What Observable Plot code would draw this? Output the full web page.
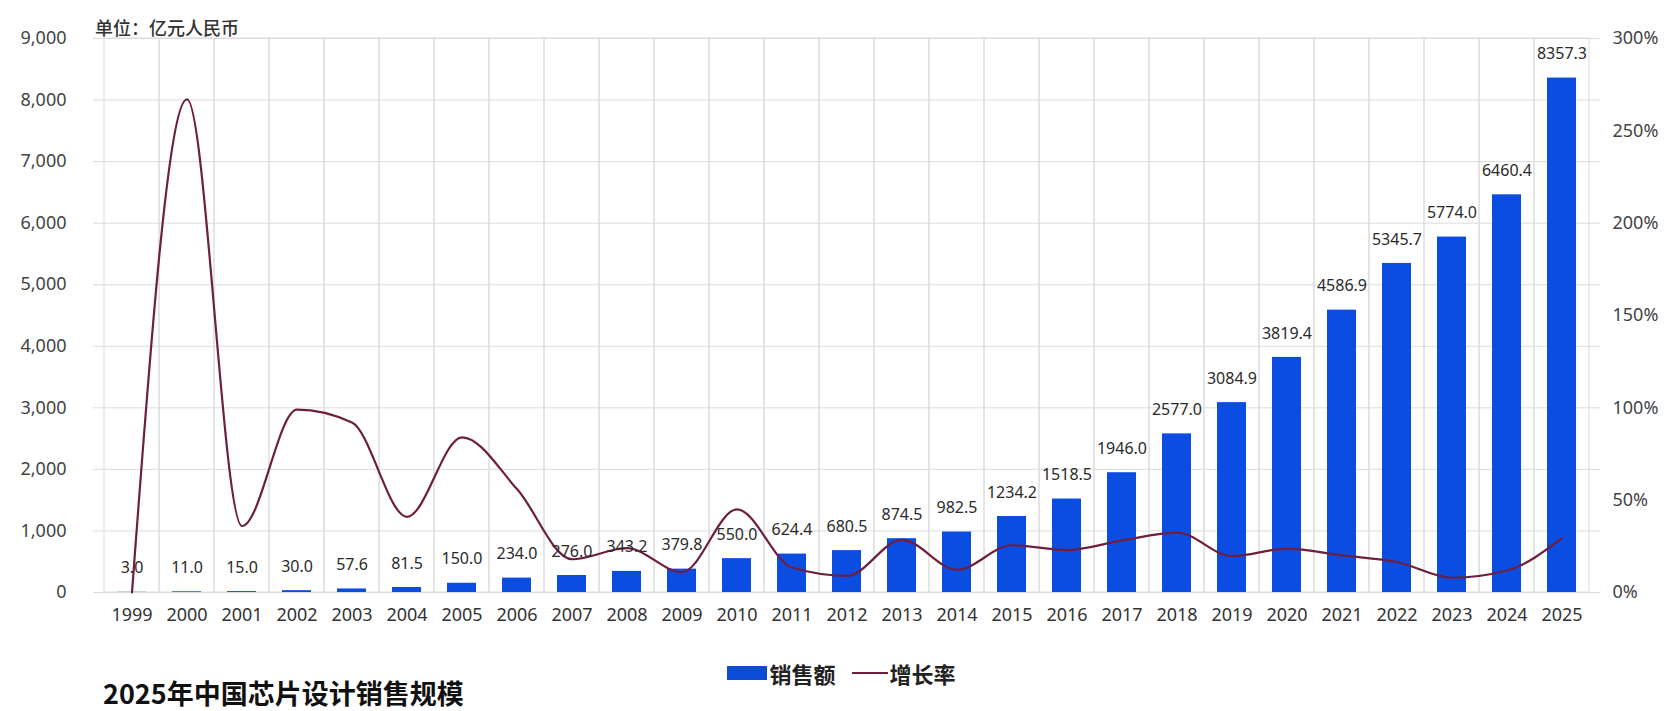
<!DOCTYPE html>
<html><head><meta charset="utf-8">
<script src="https://cdn.jsdelivr.net/npm/d3@7"></script>
<script src="https://cdn.jsdelivr.net/npm/@observablehq/plot@0.6"></script>
<style>
body{margin:0;background:#fff;font-family:"Noto Sans","Noto Sans CJK SC",sans-serif;}
#wrap{position:relative;width:1671px;height:711px;overflow:hidden;background:#fff}
#chart{position:absolute;left:0;top:0}
#unit{position:absolute;left:95px;top:14px;font-size:18px;color:#333;font-family:"Noto Sans CJK SC",sans-serif;font-weight:500}
#legend{position:absolute;left:0;width:1671px;top:657px;display:flex;justify-content:center;align-items:center;font-family:"Noto Sans CJK SC",sans-serif;font-weight:bold;font-size:22px;color:#222;padding-left:12px;box-sizing:border-box}
#legend .sw{display:inline-block;width:40px;height:14px;background:#0b4bd6;margin-right:2px}
#legend .ln{display:inline-block;width:36px;height:2px;background:#6e1f3f;margin-left:16px;margin-right:2px}
#title{position:absolute;left:103px;top:679px;font-size:27px;font-weight:bold;color:#111;font-family:"Noto Sans CJK SC",sans-serif;line-height:1}
</style></head>
<body>
<div id="wrap">
  <div id="chart"></div>
  <div id="unit">单位：亿元人民币</div>
  <div id="legend"><span class="sw"></span><span>销售额</span><span class="ln"></span><span>增长率</span></div>
  <div id="title">2025年中国芯片设计销售规模</div>
</div>
<script>
const years = ["1999","2000","2001","2002","2003","2004","2005","2006","2007","2008","2009","2010","2011","2012","2013","2014","2015","2016","2017","2018","2019","2020","2021","2022","2023","2024","2025"];
const sales = [3.0,11.0,15.0,30.0,57.6,81.5,150.0,234.0,276.0,343.2,379.8,550.0,624.4,680.5,874.5,982.5,1234.2,1518.5,1946.0,2577.0,3084.9,3819.4,4586.9,5345.7,5774.0,6460.4,8357.3];
const growth = [0,267,36,99,92,41,84,56,18,24,11,45,13.5,9,28.5,12.3,25.6,23,28.2,32.4,19.7,23.8,20.1,16.5,8,11.9,29.4];
const salesTicks = [0,1000,2000,3000,4000,5000,6000,7000,8000,9000];
const rateTicks = [0,50,100,150,200,250,300];
const salesMax = 9000, rateMax = 300;
const k = salesMax / rateMax;

const rows = years.map((y, i) => ({year: y, sales: sales[i], growth: growth[i]}));

const chart = Plot.plot({
  width: 1671,
  height: 650,
  marginLeft: 93,
  marginRight: 71,
  marginTop: 38,
  marginBottom: 58,
  style: {fontFamily: '"Noto Sans", sans-serif', background: "#fff"},
  x: {type: "band", domain: years, padding: 0, axis: null, label: null},
  y: {domain: [0, salesMax], axis: null, label: null},
  marks: [
    Plot.ruleY(salesTicks, {stroke: "#dcdcdc", strokeWidth: 1}),
    Plot.barY(years, {x: d => d, y1: 0, y2: salesMax, fill: "none", stroke: "#dcdcdc", strokeWidth: 1}),
    Plot.barY(rows, {x: "year", y: "sales", fill: "#0b4de0", insetLeft: 13, insetRight: 13}),
    Plot.line(rows, {x: "year", y: d => d.growth * k, stroke: "#6e1f3f", strokeWidth: 2.2, curve: "monotone-x"}),
    Plot.text(rows, {x: "year", y: "sales", text: d => d.sales.toFixed(1), dy: -24, fontSize: 16, fill: "#2a2a2a"}),
    Plot.axisX({tickSize: 0, tickPadding: 16, fontSize: 18, fill: "#333", label: null}),
    Plot.axisY({ticks: salesTicks, tickSize: 0, tickPadding: 27, tickFormat: d3.format(","), fontSize: 18, fill: "#444", label: null}),
    Plot.axisY({anchor: "right", ticks: rateTicks.map(r => r * k), tickSize: 0, tickPadding: 12, tickFormat: d => Math.round(d / k) + "%", fontSize: 18, fill: "#444", label: null})
  ]
});
document.getElementById("chart").appendChild(chart);
</script>
</body></html>
